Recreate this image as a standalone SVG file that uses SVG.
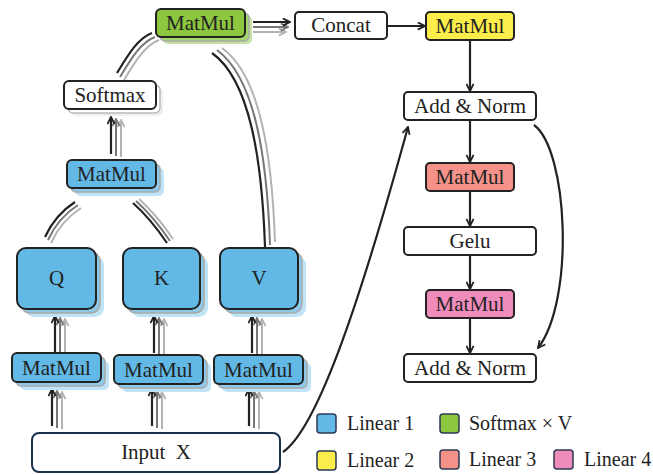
<svg xmlns="http://www.w3.org/2000/svg" width="653" height="475" viewBox="0 0 653 475" font-family="'Liberation Serif', serif" font-size="20">
<defs>
<style>
text{font-family:'Liberation Serif',serif;font-size:21px;fill:#222;text-anchor:middle}
.box{stroke:#222;stroke-width:2}
.w{fill:#fff}
.b{fill:#63b9e6}
.g{fill:#8dc63f}
.y{fill:#fcee4a}
.r{fill:#f4928a}
.p{fill:#f08cbc}
.shb1{fill:#bfe3f7}
.shb2{fill:#8fc9ea;stroke:#aaa;stroke-width:1.5}
.shw1{fill:#efefef}
.shw2{fill:#fff;stroke:#bbb;stroke-width:1.5}
.shg1{fill:#c4e3a2}
.shg2{fill:#a6d46e;stroke:#aaa;stroke-width:1.5}
.k{stroke:#222;stroke-width:2.2;fill:none}
.m{stroke:#777;stroke-width:2;fill:none}
.l{stroke:#b3b3b3;stroke-width:2;fill:none}
.ak{marker-end:url(#ak)}
.am{marker-end:url(#am)}
.al{marker-end:url(#al)}
.leg{stroke:#2b3a55;stroke-width:1.5}
.st{text-anchor:start;font-size:20px}
</style>
<marker id="ak" viewBox="0 0 10 10" refX="9" refY="5" markerWidth="9" markerHeight="9" markerUnits="userSpaceOnUse" orient="auto"><path d="M1,1 L9,5 L1,9" fill="none" stroke="#222" stroke-width="2"/></marker>
<marker id="am" viewBox="0 0 10 10" refX="9" refY="5" markerWidth="9" markerHeight="9" markerUnits="userSpaceOnUse" orient="auto"><path d="M1,1 L9,5 L1,9" fill="none" stroke="#777" stroke-width="2"/></marker>
<marker id="al" viewBox="0 0 10 10" refX="9" refY="5" markerWidth="9" markerHeight="9" markerUnits="userSpaceOnUse" orient="auto"><path d="M1,1 L9,5 L1,9" fill="none" stroke="#b3b3b3" stroke-width="2"/></marker>
</defs>
<rect width="653" height="475" fill="#fff"/>

<g id="connectors">
<path class="l al" d="M253,32 H286"/>
<path class="m am" d="M253,27 H288"/>
<path class="k ak" d="M253,22 H290"/>
<path class="k ak" d="M388,26 H425"/>
<path class="k ak" d="M470,40 V91"/>
<path class="k ak" d="M470,121 V162"/>
<path class="k ak" d="M470,191 V226"/>
<path class="k ak" d="M470,255 V289"/>
<path class="k ak" d="M470,318 V353"/>
<path class="k ak" d="M534,125 C568,150 575,300 538,348"/>
<path class="k ak" d="M283,452 C315,430 355,320 408,127"/>
<path class="l al" d="M62,429 V392"/><path class="m am" d="M57,428 V391"/><path class="k ak" d="M52,426 V389"/>
<path class="l al" d="M162,429 V392"/><path class="m am" d="M157,428 V391"/><path class="k ak" d="M152,426 V389"/>
<path class="l al" d="M259,429 V392"/><path class="m am" d="M254,428 V391"/><path class="k ak" d="M249,426 V389"/>
<path class="l al" d="M65,355 V319"/><path class="m am" d="M60,354 V318"/><path class="k ak" d="M55,352 V316"/>
<path class="l al" d="M164,356 V319"/><path class="m am" d="M159,355 V318"/><path class="k ak" d="M154,353 V316"/>
<path class="l al" d="M262,356 V319"/><path class="m am" d="M257,355 V318"/><path class="k ak" d="M252,353 V316"/>
<path class="l al" d="M121,157 V120"/><path class="m am" d="M116,156 V119"/><path class="k ak" d="M111,154 V117"/>
<path class="l" d="M51,243 Q61,221 81,208"/><path class="m" d="M48,240 Q58,218 78,205"/><path class="k" d="M45,237 Q55,215 75,202"/>
<path class="l" d="M139,199 Q156,214 173,239"/><path class="m" d="M136,201 Q153,216 170,241"/><path class="k" d="M133,203 Q150,218 167,243"/>
<path class="l" d="M124,80 C135,62 145,45 159,40"/><path class="m" d="M120,77 C131,59 141,42 155,37"/><path class="k" d="M117,73 C128,55 138,38 152,33"/>
<path class="l" d="M275,242 C272,155 260,75 222,48"/><path class="m" d="M270,245 C267,157 255,78 217,50"/><path class="k" d="M265,247 C262,160 250,80 212,53"/>
</g>

<g id="matmul-sv">
<rect class="shg1" x="163" y="16" width="89" height="28" rx="5"/>
<rect class="shg2" x="160" y="13" width="89" height="28" rx="5"/>
<rect class="box g" x="156" y="9" width="89" height="28" rx="5"/>
<text x="200.5" y="30">MatMul</text>
</g>
<g id="concat">
<rect class="box w" x="295" y="12" width="92" height="27" rx="4"/>
<text x="341" y="32">Concat</text>
</g>
<g id="matmul-l2">
<rect class="box y" x="426" y="12" width="88" height="28" rx="4"/>
<text x="470" y="33">MatMul</text>
</g>
<g id="addnorm1">
<rect class="box w" x="404" y="92" width="132" height="28" rx="4"/>
<text x="470" y="113">Add &amp; Norm</text>
</g>
<g id="matmul-l3">
<rect class="box r" x="426" y="163" width="88" height="28" rx="4"/>
<text x="470" y="184">MatMul</text>
</g>
<g id="gelu">
<rect class="box w" x="404" y="227" width="132" height="28" rx="4"/>
<text x="470" y="248">Gelu</text>
</g>
<g id="matmul-l4">
<rect class="box p" x="426" y="290" width="88" height="28" rx="4"/>
<text x="470" y="311">MatMul</text>
</g>
<g id="addnorm2">
<rect class="box w" x="404" y="354" width="132" height="28" rx="4"/>
<text x="470" y="375">Add &amp; Norm</text>
</g>

<g id="softmax">
<rect class="shw1" x="71" y="88" width="92" height="28" rx="5"/>
<rect class="shw2" x="68" y="85" width="92" height="28" rx="5"/>
<rect class="box w" x="64" y="81" width="92" height="28" rx="5"/>
<text x="110" y="102">Softmax</text>
</g>
<g id="matmul-att">
<rect class="shb1" x="75" y="168" width="89" height="28" rx="5"/>
<rect class="shb2" x="71" y="164" width="89" height="28" rx="5"/>
<rect class="box b" x="67" y="160" width="89" height="28" rx="5"/>
<text x="111.5" y="181">MatMul</text>
</g>
<g id="q">
<rect class="shb1" x="25" y="256" width="79" height="61" rx="9"/>
<rect class="shb2" x="21" y="252" width="79" height="61" rx="9"/>
<rect class="box b" x="17" y="248" width="79" height="61" rx="9"/>
<text x="56.5" y="285">Q</text>
</g>
<g id="k">
<rect class="shb1" x="131" y="256" width="77" height="61" rx="9"/>
<rect class="shb2" x="127" y="252" width="77" height="61" rx="9"/>
<rect class="box b" x="123" y="248" width="77" height="61" rx="9"/>
<text x="161.5" y="285">K</text>
</g>
<g id="v">
<rect class="shb1" x="228" y="256" width="78" height="61" rx="9"/>
<rect class="shb2" x="224" y="252" width="78" height="61" rx="9"/>
<rect class="box b" x="220" y="248" width="78" height="61" rx="9"/>
<text x="259" y="285">V</text>
</g>
<g id="matmul-q">
<rect class="shb1" x="20" y="361" width="89" height="29" rx="5"/>
<rect class="shb2" x="16" y="357" width="89" height="29" rx="5"/>
<rect class="box b" x="12" y="353" width="89" height="29" rx="5"/>
<text x="56.5" y="375">MatMul</text>
</g>
<g id="matmul-k">
<rect class="shb1" x="122" y="363" width="89" height="29" rx="5"/>
<rect class="shb2" x="118" y="359" width="89" height="29" rx="5"/>
<rect class="box b" x="114" y="355" width="89" height="29" rx="5"/>
<text x="158.5" y="377">MatMul</text>
</g>
<g id="matmul-v">
<rect class="shb1" x="222" y="363" width="89" height="29" rx="5"/>
<rect class="shb2" x="218" y="359" width="89" height="29" rx="5"/>
<rect class="box b" x="214" y="355" width="89" height="29" rx="5"/>
<text x="258.5" y="377">MatMul</text>
</g>
<g id="input">
<rect x="32" y="433" width="248" height="39" rx="7" fill="#fff" stroke="#1c2f4f" stroke-width="2"/>
<text x="156" y="459" word-spacing="5" fill="#333">Input X</text>
</g>

<g id="legend">
<rect class="leg" x="317" y="414" width="19" height="19" rx="3" fill="#63b9e6"/>
<text class="st" x="347" y="430">Linear 1</text>
<rect class="leg" x="440" y="414" width="19" height="19" rx="3" fill="#8dc63f"/>
<text class="st" x="469" y="430">Softmax × V</text>
<rect class="leg" x="317" y="451" width="19" height="19" rx="3" fill="#fcee4a"/>
<text class="st" x="347" y="467">Linear 2</text>
<rect class="leg" x="440" y="450" width="19" height="19" rx="3" fill="#f4928a"/>
<text class="st" x="469" y="466">Linear 3</text>
<rect class="leg" x="554" y="450" width="19" height="19" rx="3" fill="#f08cbc"/>
<text class="st" x="584" y="466">Linear 4</text>
</g>
</svg>
